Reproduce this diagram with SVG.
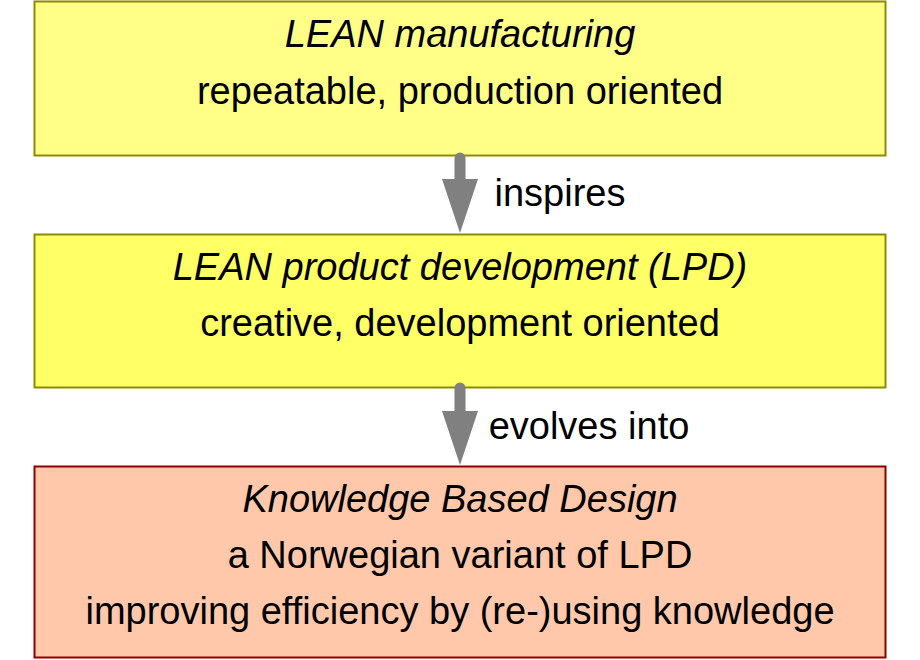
<svg xmlns="http://www.w3.org/2000/svg" width="920" height="660" viewBox="0 0 920 660">
<style>
.t{font-family:"Liberation Sans",Arial,sans-serif;font-size:38px;fill:#000;text-anchor:middle}
.i{font-style:italic}
.arr{fill:#808080;stroke:none}
</style>
<rect width="920" height="660" fill="#fff"/>
<g id="node-lean-manufacturing">
<rect x="34.5" y="1.5" width="851" height="154" fill="#ffff88" stroke="#8c8c00" stroke-width="2"/>
<text class="t i" x="460" y="47">LEAN manufacturing</text>
<text class="t" x="460" y="104">repeatable, production oriented</text>
</g>
<g id="node-lpd">
<rect x="34.5" y="234.5" width="851" height="153" fill="#ffff66" stroke="#8c8c00" stroke-width="2"/>
<text class="t i" x="460" y="280">LEAN product development (LPD)</text>
<text class="t" x="460" y="336">creative, development oriented</text>
</g>
<g id="node-kbd">
<rect x="34.5" y="466.5" width="851" height="191" fill="#ffc8aa" stroke="#8b0000" stroke-width="2"/>
<text class="t i" x="460" y="512">Knowledge Based Design</text>
<text class="t" x="460" y="568">a Norwegian variant of LPD</text>
<text class="t" x="460" y="624">improving efficiency by (re-)using knowledge</text>
</g>
<g id="connectors">
<line x1="460" y1="158" x2="460" y2="182" stroke="#808080" stroke-width="11" stroke-linecap="round"/>
<polygon class="arr" points="442,179 478,179 460,233"/>
<text class="t" x="560" y="206">inspires</text>
<line x1="460" y1="388" x2="460" y2="414" stroke="#808080" stroke-width="11" stroke-linecap="round"/>
<polygon class="arr" points="442,411 478,411 460,465"/>
<text class="t" x="589" y="439">evolves into</text>
</g>
</svg>
